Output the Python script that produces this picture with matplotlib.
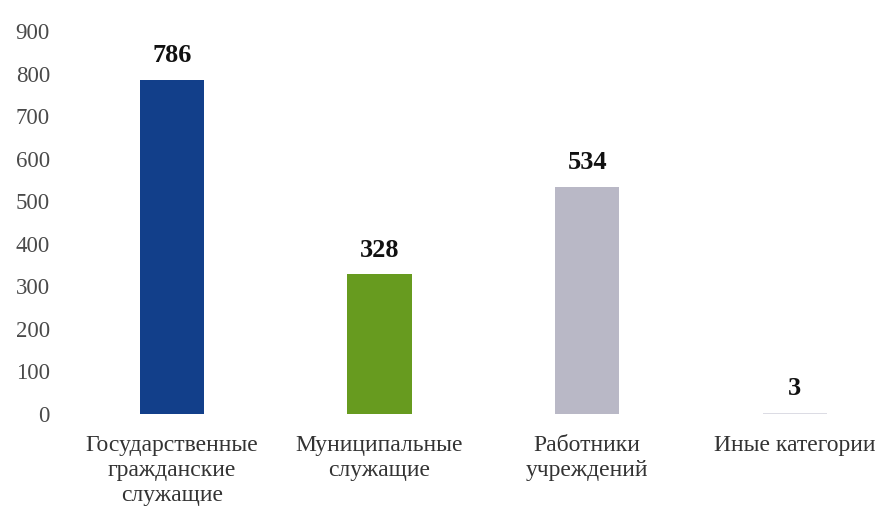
import matplotlib
matplotlib.use("Agg")
import matplotlib.pyplot as plt

categories = ["Государственные\nгражданские\nслужащие", "Муниципальные\nслужащие",
              "Работники\nучреждений", "Иные категории"]
values = [786, 328, 534, 3]
colors = ["#123f8a", "#679b1f", "#b9b8c6", "#dcdce4"]
yticks = [0, 100, 200, 300, 400, 500, 600, 700, 800, 900]

plt.rcParams['font.family'] = ['Liberation Serif', 'DejaVu Serif']

fig = plt.figure(figsize=(8.78, 5.08), dpi=100)
ax = fig.add_axes([68/878, 1-414/508, 1-68/878, (414-31)/508])
x = list(range(len(values)))
ax.bar(x, values, width=0.31, color=colors)
for xi, v in zip(x, values):
    ax.annotate(str(v), (xi, v), xytext=(0, 9), textcoords='offset points',
                ha='center', va='bottom', fontsize=19, fontweight='bold',
                color='#111111')
ax.set_xlim(-0.5, 3.4)
ax.set_ylim(0, 900)
ax.set_yticks(yticks)
ax.set_yticklabels([str(t) for t in yticks], fontsize=16.5, color='#4a4a4a')
ax.set_xticks(x)
ax.set_xticklabels(categories, fontsize=17, color='#333333', linespacing=1.24)
ax.tick_params(axis='both', length=0)
ax.tick_params(axis='y', pad=13)
ax.tick_params(axis='x', pad=15)
for s in ax.spines.values():
    s.set_visible(False)
fig.savefig("out.png", dpi=100)
